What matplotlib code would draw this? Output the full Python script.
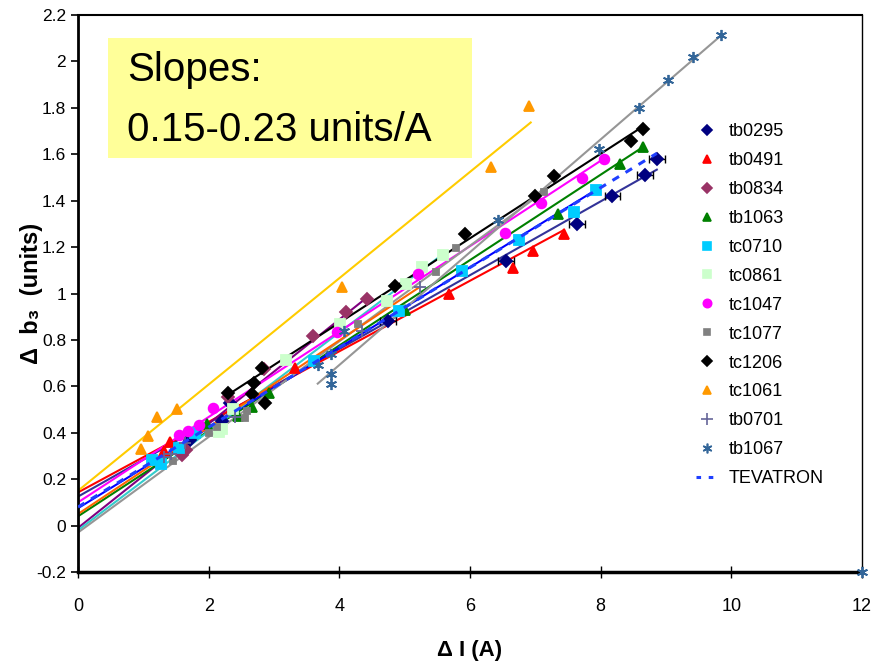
import numpy as np
import matplotlib
matplotlib.use("Agg")
import matplotlib.pyplot as plt
from matplotlib.patches import Rectangle
from matplotlib.lines import Line2D

plt.rcParams['font.family'] = ['Liberation Sans', 'DejaVu Sans']

# data: points per magnet, plus the trend line (intercept, slope, x range)
names = ['tb0295', 'tb0491', 'tb0834', 'tb1063', 'tc0710', 'tc0861',
         'tc1047', 'tc1077', 'tc1206', 'tc1061', 'tb0701', 'tb1067']

xs = [
    [1.72, 2.2, 2.33, 4.75, 6.55, 7.64, 8.18, 8.68, 8.86],
    [1.32, 1.41, 3.32, 5.68, 6.66, 6.96, 7.44],
    [1.59, 1.66, 2.29, 2.84, 3.59, 4.11, 4.42],
    [1.98, 2.45, 2.67, 2.93, 5.0, 7.35, 8.3, 8.65],
    [1.13, 1.27, 1.54, 1.79, 3.61, 4.92, 5.88, 6.75, 7.59, 7.93],
    [2.16, 2.2, 2.38, 3.19, 4.01, 4.73, 5.02, 5.26, 5.58],
    [1.54, 1.69, 1.86, 2.07, 3.96, 5.21, 6.54, 7.08, 7.71, 8.05],
    [1.45, 2.0, 2.13, 2.56, 2.59, 4.29, 5.48, 5.79, 7.13],
    [2.3, 2.66, 2.69, 2.81, 2.86, 4.85, 5.93, 7.0, 7.29, 8.46, 8.65],
    [0.96, 1.07, 1.21, 1.52, 4.04, 6.32, 6.9],
    [1.31, 1.43, 1.64, 2.4, 4.34, 5.23],
    [3.67, 3.87, 3.88, 3.88, 4.07, 6.43, 7.98, 8.59, 9.03, 9.42, 9.85, 12.0],
]
ys = [
    [0.37, 0.45, 0.53, 0.88, 1.14, 1.30, 1.42, 1.51, 1.58],
    [0.32, 0.36, 0.68, 1.00, 1.11, 1.185, 1.256],
    [0.306, 0.326, 0.553, 0.675, 0.815, 0.92, 0.977],
    [0.438, 0.471, 0.51, 0.572, 0.927, 1.343, 1.56, 1.63],
    [0.284, 0.266, 0.335, 0.398, 0.711, 0.924, 1.095, 1.231, 1.353, 1.447],
    [0.402, 0.417, 0.503, 0.715, 0.869, 0.967, 1.04, 1.116, 1.167],
    [0.392, 0.406, 0.435, 0.506, 0.836, 1.085, 1.26, 1.391, 1.499, 1.58],
    [0.28, 0.398, 0.424, 0.464, 0.496, 0.869, 1.092, 1.197, 1.437],
    [0.57, 0.565, 0.615, 0.68, 0.529, 1.034, 1.257, 1.422, 1.506, 1.659, 1.711],
    [0.328, 0.388, 0.47, 0.504, 1.026, 1.547, 1.81],
    [0.294, 0.309, 0.355, 0.47, 0.84, 1.027],
    [0.69, 0.654, 0.74, 0.61, 0.84, 1.315, 1.624, 1.80, 1.921, 2.021, 2.112, -0.2],
]
# x error bars only on tb0295
tb0295_xerr = [0, 0, 0, 0.12, 0.12, 0.12, 0.12, 0.12, 0.12]

intercepts = [0.125, 0.143, -0.01, 0.04, 0.075, -0.02, 0.10, -0.03, 0.146, 0.15, 0.05, -0.28]
slopes = [0.159, 0.152, 0.2245, 0.184, 0.173, 0.213, 0.184, 0.206, 0.182, 0.229, 0.187, 0.243]
line_from = [0, 0, 0, 0, 0, 0, 0, 0, 2.3, 0, 0, 3.67]
line_to = [8.86, 7.44, 4.44, 8.65, 7.93, 5.59, 8.05, 7.13, 8.65, 6.93, 5.23, 9.85]

tev_intercept, tev_slope, tev_to = 0.08, 0.172, 8.86

marker_colors = ['#000080', '#FF0000', '#993366', '#008000', '#00CCFF', '#CCFFCC',
                 '#FF00FF', '#808080', '#000000', '#FF9900', '#666699', '#336699']
line_colors = ['#333399', '#FF0000', '#800080', '#008000', '#0000FF', '#33CCCC',
               '#FF00FF', '#969696', '#000000', '#FFCC00', '#FF6600', '#969696']
markers = ['D', '^', 'D', '^', 's', 's', 'o', 's', 'D', '^', '+', (6, 2, 0)]
msizes = [6, 7, 6, 7, 7, 7, 7, 5, 6, 7, 9, 8]

fig = plt.figure(figsize=(8.8, 6.65), dpi=100)
ax = fig.add_axes([0.0886, 0.1398, 0.8909, 0.8376])

# trend lines
for i in range(len(names)):
    lx = np.array([line_from[i], line_to[i]])
    ax.plot(lx, intercepts[i] + slopes[i] * lx, color=line_colors[i], lw=1.5, zorder=2)

# points
for i in range(len(names)):
    if names[i] == 'tb0295':
        ax.errorbar(xs[i], ys[i], xerr=tb0295_xerr, fmt='none', ecolor='black',
                    elinewidth=1, capsize=3, zorder=3)
    ax.plot(xs[i], ys[i], linestyle='none', marker=markers[i], ms=msizes[i],
            color=marker_colors[i], mec=marker_colors[i], mew=1.3, zorder=4, clip_on=False)

tx = np.array([0, tev_to])
ax.plot(tx, tev_intercept + tev_slope * tx, color='#1f3fff', lw=2.2, ls=(0, (2.5, 2.5)), zorder=5)

# slopes box
ax.add_patch(Rectangle((0.46, 1.582), 5.57, 0.517, facecolor='#FFFF99', edgecolor='none', zorder=1))
ax.text(0.75, 1.961, 'Slopes:', fontsize=29, va='center', ha='left', zorder=6)
ax.text(0.75, 1.703, '0.15-0.23 units/A', fontsize=29, va='center', ha='left', zorder=6)

ax.set_xlim(0, 12)
ax.set_ylim(-0.2, 2.2)
ax.set_xticks(np.arange(0, 13, 2))
ax.set_yticks(np.arange(-0.2, 2.21, 0.2))
ax.set_yticklabels(['-0.2', '0', '0.2', '0.4', '0.6', '0.8', '1', '1.2', '1.4', '1.6', '1.8', '2', '2.2'])
ax.tick_params(axis='y', direction='out', length=5, width=1.2, labelsize=12.5)
ax.tick_params(axis='x', direction='inout', length=9, width=1, labelsize=13, pad=14)

ax.spines['left'].set_linewidth(2)
ax.spines['bottom'].set_linewidth(2.5)
ax.spines['top'].set_linewidth(1.5)
ax.spines['right'].set_linewidth(1)

ax.set_xlabel('Δ I (A)', fontsize=16, fontweight='bold', labelpad=18)
ax.set_ylabel('Δ  b₃  (units)', fontsize=17, fontweight='bold')
ax.yaxis.set_label_coords(-0.045, 0.5)

handles = []
for i in range(len(names)):
    handles.append(Line2D([], [], linestyle='none', marker=markers[i], ms=msizes[i] - 1,
                          color=marker_colors[i], mec=marker_colors[i], mew=1.2))
handles.append(Line2D([], [], color='#1f3fff', lw=2.2, ls=(0, (1.5, 2.5))))
leg = ax.legend(handles, names + ['TEVATRON'], loc='upper left', bbox_to_anchor=(0.768, 0.835),
                frameon=False, fontsize=13, labelspacing=0.66, handlelength=1.2,
                handletextpad=0.6)

fig.savefig('out.png', dpi=100)
